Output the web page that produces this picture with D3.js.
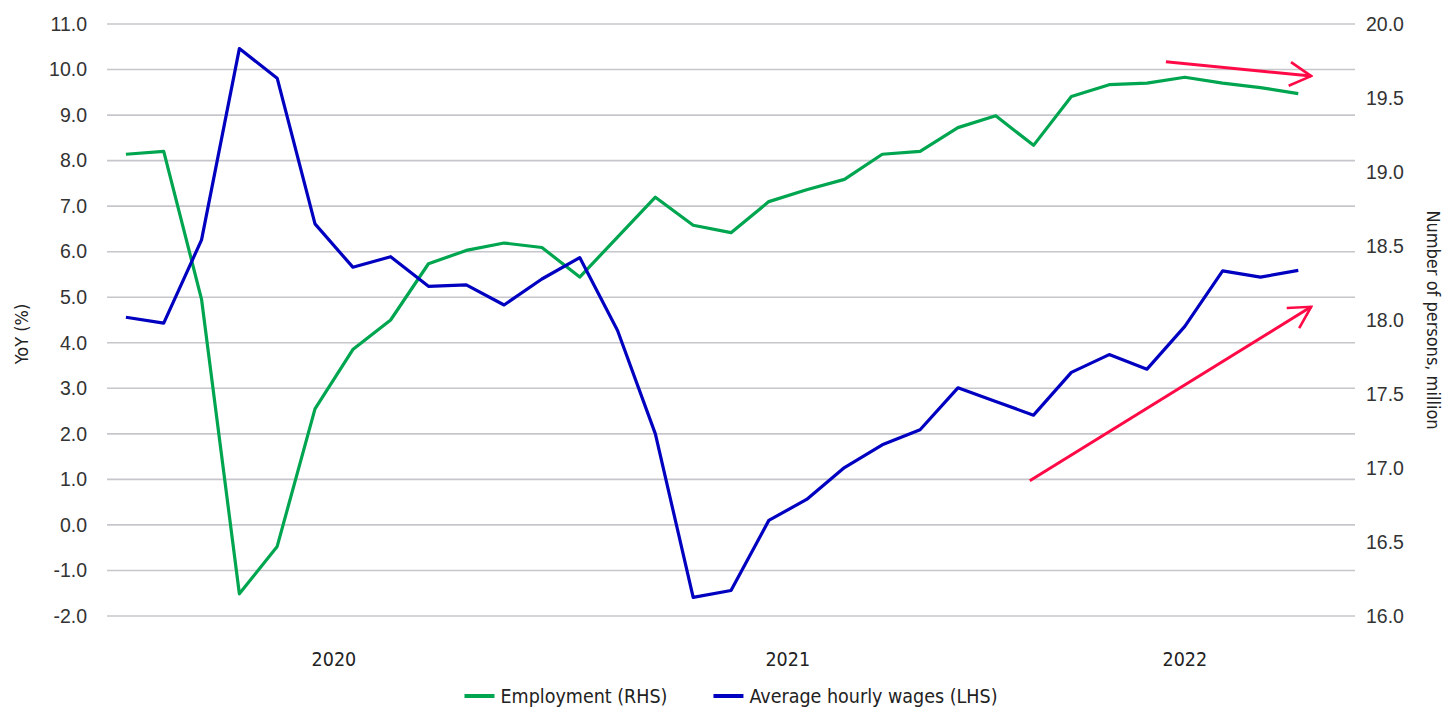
<!DOCTYPE html>
<html>
<head>
<meta charset="utf-8">
<script src="https://cdn.jsdelivr.net/npm/d3@7"></script>
<style>
  body { margin: 0; background: #fff; }
</style>
</head>
<body>
<svg id="chart" width="1455" height="711"></svg>
<script>
// months shown on the x axis (last slot stays empty)
const months = d3.range(33).map(i => {
  const y = 2020 + Math.floor(i / 12);
  return `${y}-${String(i % 12 + 1).padStart(2, '0')}`;
});
const years = ['2020', '2021', '2022'];

// Average hourly wages, YoY % (LHS)
const wages = [4.56, 4.43, 6.26, 10.46, 9.81, 6.61, 5.66, 5.89, 5.24, 5.27, 4.83, 5.40,
  5.87, 4.27, 2.00, -1.59, -1.44, 0.10, 0.56, 1.26, 1.76, 2.09, 3.01, 2.71,
  2.41, 3.35, 3.74, 3.42, 4.36, 5.58, 5.44, 5.59];

// Employment, million persons (RHS)
const employment = [19.12, 19.14, 18.14, 16.15, 16.47, 17.40, 17.80, 18.00, 18.38, 18.47, 18.52, 18.49,
  18.29, 18.56, 18.83, 18.64, 18.59, 18.80, 18.88, 18.95, 19.12, 19.14, 19.30, 19.38,
  19.18, 19.51, 19.59, 19.60, 19.64, 19.60, 19.57, 19.53];

const leftTicks = d3.range(-2, 11.01, 1);
const rightTicks = d3.range(16, 20.01, 0.5);

// trend arrows: [month index, value] pairs
const trendArrows = [
  {axis: 'right', from: [27.5, 19.745], to: [31.34, 19.648]},
  {axis: 'left', from: [23.9, 0.97], to: [31.34, 4.79]}
];

const numFont = '"Liberation Sans", Arial, sans-serif';
const condFont = '"Liberation Sans Narrow", "DejaVu Sans Condensed", sans-serif';
const fmt = d => d.toFixed(1);

const margin = {top: 24, right: 100, bottom: 95, left: 107};
const svg = d3.select('#chart');
const width = +svg.attr('width');
const height = +svg.attr('height');
const x0 = margin.left, x1 = width - margin.right;
const yTop = margin.top, yBot = height - margin.bottom;

const x = d3.scaleBand().domain(months).range([x0, x1]);
const bw = x.bandwidth();
const xIdx = d3.scaleLinear().domain([0, 1]).range([x(months[0]) + bw / 2, x(months[1]) + bw / 2]);
const yL = d3.scaleLinear().domain([-2, 11]).range([yBot, yTop]);
const yR = d3.scaleLinear().domain([16, 20]).range([yBot, yTop]);

// grid
svg.append('g').selectAll('line').data(leftTicks).join('line')
  .attr('x1', x0).attr('x2', x1)
  .attr('y1', d => yL(d)).attr('y2', d => yL(d))
  .attr('stroke', '#c6c6cc').attr('stroke-width', 1.6);

// left axis
const la = svg.append('g').attr('transform', `translate(${x0 - 20},0)`)
  .call(d3.axisLeft(yL).tickValues(leftTicks).tickFormat(fmt).tickSize(0).tickPadding(0));
la.select('.domain').remove();
la.selectAll('text').style('font-family', numFont).style('font-size', '19.5px').style('fill', '#333');

// right axis
const ra = svg.append('g').attr('transform', `translate(${x1 + 11},0)`)
  .call(d3.axisRight(yR).tickValues(rightTicks).tickFormat(fmt).tickSize(0).tickPadding(0));
ra.select('.domain').remove();
ra.selectAll('text').style('font-family', numFont).style('font-size', '19.5px').style('fill', '#333');

const condText = sel => sel.style('font-family', condFont).style('font-size', '19.5px').style('fill', '#222');

// axis titles
svg.append('text').call(condText).style('font-size', '18px')
  .attr('transform', `translate(28,${(yTop + yBot) / 2 + 14}) rotate(-90)`)
  .attr('text-anchor', 'middle').text('YoY (%)');
svg.append('text').call(condText).style('font-size', '18px')
  .attr('transform', `translate(1427,${(yTop + yBot) / 2}) rotate(90)`)
  .attr('text-anchor', 'middle').text('Number of persons, million');

// year labels centred over each year's span
svg.append('g').selectAll('text').data(years).join('text')
  .call(condText)
  .attr('text-anchor', 'middle')
  .attr('x', yr => {
    const ms = months.filter(m => m.startsWith(yr));
    return (x(ms[0]) + x(ms[ms.length - 1]) + bw) / 2;
  })
  .attr('y', yBot + 50)
  .text(d => d);

// lines
const line = y => d3.line().x((d, i) => xIdx(i)).y(d => y(d));
svg.append('path').datum(employment)
  .attr('fill', 'none').attr('stroke', '#00a550').attr('stroke-width', 3.2)
  .attr('stroke-linejoin', 'round').attr('d', line(yR));
svg.append('path').datum(wages)
  .attr('fill', 'none').attr('stroke', '#0000c0').attr('stroke-width', 3.2)
  .attr('stroke-linejoin', 'round').attr('d', line(yL));

// arrows
svg.append('defs').append('marker')
  .attr('id', 'head').attr('viewBox', '0 0 12 12')
  .attr('refX', 11).attr('refY', 6)
  .attr('markerWidth', 9.5).attr('markerHeight', 9.5)
  .attr('markerUnits', 'strokeWidth')
  .attr('orient', 'auto')
  .append('path').attr('d', 'M2,1 L11,6 L2,11')
  .attr('fill', 'none').attr('stroke', '#ff0a46').attr('stroke-width', 1.1);

svg.append('g').selectAll('line').data(trendArrows).join('line')
  .attr('x1', d => xIdx(d.from[0]))
  .attr('y1', d => (d.axis === 'left' ? yL : yR)(d.from[1]))
  .attr('x2', d => xIdx(d.to[0]))
  .attr('y2', d => (d.axis === 'left' ? yL : yR)(d.to[1]))
  .attr('stroke', '#ff0a46').attr('stroke-width', 3)
  .attr('marker-end', 'url(#head)');

// legend
const legendItems = [
  {label: 'Employment (RHS)', color: '#00a550'},
  {label: 'Average hourly wages (LHS)', color: '#0000c0'}
];
const legend = svg.append('g').attr('transform', `translate(0,${height - 8})`);
const lg = legend.selectAll('g').data(legendItems).join('g');
lg.append('line').attr('y1', -7).attr('y2', -7).attr('x1', 0).attr('x2', 30)
  .attr('stroke', d => d.color).attr('stroke-width', 4);
lg.append('text').call(condText).attr('x', 36).attr('y', 0).text(d => d.label);
const widths = [];
lg.each(function () { widths.push(this.getBBox().width); });
const gap = 46;
const total = d3.sum(widths) + gap * (widths.length - 1);
let cx = (x0 + x1) / 2 - total / 2;
lg.attr('transform', (d, i) => {
  const t = `translate(${cx},0)`;
  cx += widths[i] + gap;
  return t;
});
</script>
</body>
</html>
